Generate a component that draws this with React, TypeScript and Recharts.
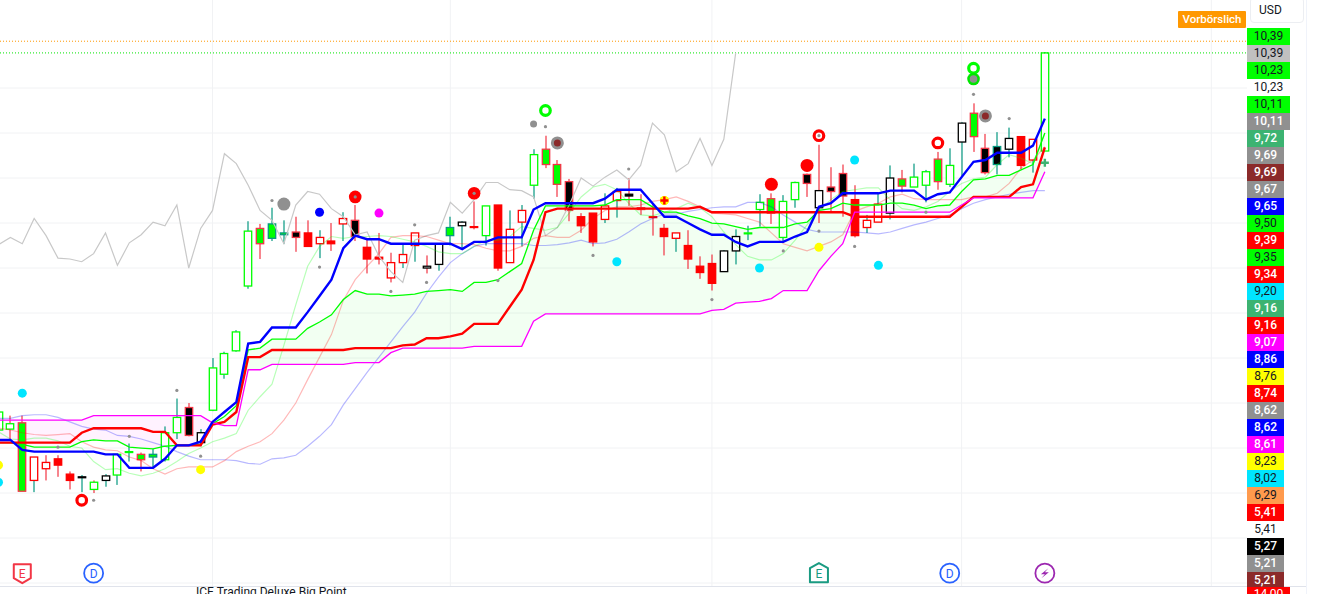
import { Area, Bar, CartesianGrid, ComposedChart, Line, ReferenceLine, Scatter, XAxis, YAxis } from "recharts";

const bodyHigh = [
  6.40, 6.27, 6.28, 5.90, 5.84, 5.88, 5.71, 5.68, 5.62, 5.69,
  5.93, 5.96, 5.93, 5.93, 6.17, 6.34, 6.45, 6.17, 6.89, 7.05,
  7.29, 8.41, 8.44, 8.49, 8.39, 8.40, 8.39, 8.34, 8.30, 8.55,
  8.53, 8.23, 8.12, 8.06, 8.15, 8.39, 8.02, 8.27, 8.45, 8.51,
  8.46, 8.69, 8.70, 8.43, 8.64, 9.26, 9.32, 9.15, 8.96, 8.57,
  8.61, 8.69, 8.85, 8.82, 8.67, 8.57, 8.44, 8.39, 8.25, 8.02,
  8.05, 8.19, 8.35, 8.39, 8.73, 8.77, 8.74, 8.95, 9.04, 8.86,
  8.90, 9.05, 8.76, 8.53, 8.71, 9.00, 8.99, 9.01, 9.07, 9.21,
  9.14, 9.61, 9.72, 9.33, 9.35, 9.44, 9.46, 9.43, 10.39,
];
const bodyLow = [
  6.20, 6.21, 5.52, 5.64, 5.77, 5.81, 5.64, 5.67, 5.54, 5.64,
  5.70, 5.95, 5.87, 5.90, 5.87, 6.17, 6.14, 6.06, 6.42, 6.82,
  7.08, 7.80, 8.27, 8.33, 8.37, 8.34, 8.24, 8.27, 8.27, 8.49,
  8.35, 8.10, 8.10, 7.89, 8.06, 8.25, 8.00, 8.04, 8.36, 8.47,
  8.45, 8.36, 8.00, 8.06, 8.51, 8.92, 9.15, 8.93, 8.64, 8.47,
  8.29, 8.54, 8.75, 8.80, 8.65, 8.56, 8.35, 8.33, 8.10, 7.95,
  7.83, 7.96, 8.19, 8.38, 8.65, 8.61, 8.34, 8.76, 8.94, 8.67,
  8.85, 8.80, 8.36, 8.45, 8.51, 8.61, 8.91, 8.90, 8.92, 8.96,
  8.93, 9.40, 9.46, 9.06, 9.15, 9.32, 9.14, 9.20, 9.30,
];
const wickHigh = [
  6.42, 6.36, 6.36, 5.90, 5.92, 5.92, 5.74, 5.70, 5.64, 5.71,
  5.93, 6.05, 5.95, 5.99, 6.24, 6.55, 6.50, 6.21, 7.00, 7.07,
  7.31, 8.52, 8.49, 8.67, 8.53, 8.57, 8.53, 8.42, 8.50, 8.62,
  8.70, 8.33, 8.39, 8.17, 8.26, 8.39, 8.14, 8.27, 8.57, 8.52,
  8.74, 8.69, 8.70, 8.64, 8.70, 9.32, 9.47, 9.20, 8.99, 8.61,
  8.61, 8.83, 8.89, 9.00, 8.82, 8.72, 8.49, 8.39, 8.42, 8.13,
  8.15, 8.20, 8.43, 8.47, 8.82, 8.83, 8.81, 8.96, 9.05, 9.37,
  9.12, 9.15, 8.92, 8.59, 8.83, 9.14, 9.09, 9.16, 9.09, 9.29,
  9.33, 9.62, 9.83, 9.49, 9.51, 9.56, 9.46, 9.43, 10.40,
];
const wickLow = [
  6.18, 6.10, 5.52, 5.51, 5.64, 5.68, 5.54, 5.51, 5.50, 5.57,
  5.59, 5.85, 5.74, 5.79, 5.85, 6.10, 6.13, 6.02, 6.41, 6.77,
  7.07, 7.77, 8.10, 8.30, 8.27, 8.18, 8.24, 8.11, 8.19, 8.30,
  8.30, 7.94, 8.04, 7.84, 8.00, 8.07, 7.94, 7.97, 8.25, 8.22,
  8.43, 8.25, 7.97, 8.06, 8.24, 8.77, 9.11, 8.79, 8.52, 8.39,
  8.24, 8.50, 8.56, 8.69, 8.59, 8.36, 8.14, 8.18, 7.99, 7.88,
  7.75, 7.96, 8.04, 8.31, 8.46, 8.49, 8.28, 8.67, 8.79, 8.50,
  8.62, 8.57, 8.34, 8.39, 8.51, 8.54, 8.84, 8.90, 8.73, 8.87,
  8.90, 9.01, 9.29, 9.04, 9.04, 9.23, 9.10, 9.06, 9.30,
];
// body kind per candle, see KIND_STYLE
const candleKind = [
  "hg", "hg", "gr", "hr", "hr", "rr", "rr", "kk", "hg", "hk",
  "hg", "hg", "gr", "gt", "hg", "hg", "kr", "hk", "hg", "hg",
  "hg", "hg", "gr", "gt", "gt", "kr", "rr", "hr", "rr", "hr",
  "kr", "rr", "rr", "hr", "hr", "hr", "hk", "hk", "gt", "hk",
  "rr", "hg", "rr", "hr", "hr", "hg", "gr", "gr", "kr", "rr",
  "rr", "hr", "hr", "kk", "kr", "rr", "rr", "hr", "rr", "rr",
  "rr", "hk", "hk", "hg", "hg", "gr", "hg", "hg", "kr", "hk",
  "kr", "kr", "rr", "hr", "hr", "hk", "gr", "hg", "hg", "gr",
  "hg", "hk", "gr", "kr", "kt", "hk", "rr", "hr", "og",
];
const wickKind = [
  "t", "r", "r", "t", "r", "r", "r", "t", "r", "t",
  "t", "t", "r", "t", "t", "t", "r", "t", "t", "t",
  "t", "t", "r", "t", "t", "r", "r", "t", "r", "t",
  "r", "r", "r", "r", "t", "t", "r", "t", "t", "t",
  "r", "t", "r", "t", "t", "t", "r", "r", "r", "r",
  "r", "t", "t", "r", "r", "r", "r", "t", "r", "r",
  "r", "t", "t", "t", "t", "r", "t", "t", "r", "r",
  "r", "r", "r", "t", "t", "t", "r", "t", "t", "r",
  "t", "t", "r", "r", "t", "t", "r", "t", "t",
];

const blueLine = [
  6.09, 6.09, 5.98, 5.96, 5.96, 5.96, 5.96, 5.96, 5.96, 5.93,
  5.93, 5.78, 5.78, 5.78, 5.88, 6.03, 6.03, 6.07, 6.29, 6.40,
  6.51, 7.16, 7.18, 7.34, 7.34, 7.34, 7.51, 7.69, 7.87, 8.22,
  8.36, 8.32, 8.32, 8.27, 8.27, 8.27, 8.27, 8.27, 8.27, 8.21,
  8.29, 8.29, 8.34, 8.34, 8.34, 8.65, 8.72, 8.72, 8.72, 8.72,
  8.72, 8.77, 8.87, 8.87, 8.87, 8.72, 8.57, 8.57, 8.50, 8.43,
  8.37, 8.37, 8.29, 8.24, 8.29, 8.29, 8.29, 8.35, 8.40, 8.68,
  8.72, 8.83, 8.83, 8.83, 8.83, 8.86, 8.86, 8.86, 8.76, 8.82,
  8.84, 9.01, 9.18, 9.20, 9.28, 9.28, 9.28, 9.36, 9.66,
];
const redLine = [
  6.06, 6.06, 6.06, 6.06, 6.06, 6.06, 6.06, 6.17, 6.22, 6.22,
  6.22, 6.22, 6.22, 6.18, 6.18, 6.03, 6.03, 6.03, 6.26, 6.29,
  6.40, 7.01, 7.01, 7.09, 7.09, 7.09, 7.09, 7.09, 7.09, 7.09,
  7.11, 7.11, 7.11, 7.11, 7.14, 7.15, 7.22, 7.22, 7.24, 7.27,
  7.38, 7.38, 7.38, 7.57, 7.76, 8.09, 8.62, 8.66, 8.66, 8.66,
  8.66, 8.66, 8.66, 8.66, 8.66, 8.66, 8.66, 8.66, 8.66, 8.68,
  8.62, 8.62, 8.62, 8.62, 8.62, 8.62, 8.62, 8.62, 8.62, 8.62,
  8.62, 8.62, 8.57, 8.57, 8.57, 8.57, 8.57, 8.57, 8.57, 8.57,
  8.57, 8.68, 8.79, 8.79, 8.79, 8.79, 8.90, 8.93, 9.34,
];
const greenLine = [
  6.06, 6.06, 6.04, 6.01, 6.01, 6.01, 6.01, 6.07, 6.09, 6.08,
  6.08, 6.01, 6.00, 5.99, 6.02, 6.03, 6.03, 6.04, 6.27, 6.35,
  6.47, 7.09, 7.11, 7.21, 7.21, 7.21, 7.33, 7.40, 7.48, 7.65,
  7.75, 7.71, 7.71, 7.69, 7.70, 7.71, 7.74, 7.75, 7.76, 7.74,
  7.84, 7.84, 7.87, 7.96, 8.05, 8.42, 8.69, 8.69, 8.69, 8.69,
  8.69, 8.70, 8.76, 8.76, 8.76, 8.68, 8.62, 8.62, 8.58, 8.55,
  8.50, 8.49, 8.46, 8.43, 8.45, 8.45, 8.45, 8.49, 8.51, 8.64,
  8.66, 8.72, 8.70, 8.70, 8.70, 8.72, 8.72, 8.70, 8.66, 8.69,
  8.70, 8.85, 8.98, 8.99, 9.03, 9.03, 9.09, 9.15, 9.50,
];
const magentaLine = [
  6.31, 6.31, 6.31, 6.31, 6.31, 6.31, 6.31, 6.31, 6.36, 6.36,
  6.36, 6.36, 6.36, 6.36, 6.36, 6.36, 6.36, 6.36, 6.28, 6.25,
  6.25, 6.87, 6.87, 6.93, 6.93, 6.93, 6.93, 6.93, 6.93, 6.93,
  6.95, 6.95, 6.95, 7.06, 7.11, 7.11, 7.11, 7.11, 7.11, 7.11,
  7.13, 7.13, 7.13, 7.13, 7.13, 7.41, 7.49, 7.49, 7.49, 7.49,
  7.49, 7.49, 7.49, 7.49, 7.49, 7.49, 7.49, 7.49, 7.49, 7.49,
  7.53, 7.54, 7.61, 7.62, 7.63, 7.66, 7.75, 7.75, 7.75, 7.97,
  8.13, 8.27, 8.62, 8.62, 8.62, 8.62, 8.62, 8.62, 8.62, 8.62,
  8.62, 8.70, 8.78, 8.78, 8.78, 8.78, 8.78, 8.78, 9.07,
];
const paleBlueLine = [
  6.33, 6.33, 6.36, 6.37, 6.37, 6.34, 6.29, 6.24, 6.21, 6.20,
  6.14, 6.13, 6.10, 6.06, 6.02, 5.96, 5.91, 5.87, 5.87, 5.87,
  5.86, 5.83, 5.82, 5.88, 5.89, 5.92, 6.02, 6.13, 6.26, 6.48,
  6.66, 6.84, 7.01, 7.18, 7.35, 7.51, 7.72, 7.90, 8.06, 8.16,
  8.24, 8.27, 8.27, 8.27, 8.27, 8.25, 8.25, 8.26, 8.28, 8.31,
  8.27, 8.28, 8.32, 8.40, 8.49, 8.55, 8.60, 8.60, 8.63, 8.65,
  8.67, 8.68, 8.68, 8.73, 8.73, 8.68, 8.59, 8.51, 8.43, 8.40,
  8.40, 8.40, 8.40, 8.39, 8.38, 8.40, 8.44, 8.48, 8.51, 8.55,
  8.59, 8.66, 8.72, 8.76, 8.79, 8.82, 8.84, 8.86, 8.86,
];
const paleGreenLine = [
  6.18, 6.10, 6.09, 6.11, 6.11, 6.08, 6.02, 6.00, 5.85, 5.76,
  5.77, 5.72, 5.69, 5.72, 5.77, 5.85, 5.94, 6.00, 6.07, 6.11,
  6.16, 6.42, 6.57, 6.71, 7.14, 7.59, 8.02, 8.24, 8.35, 8.33,
  8.35, 8.35, 8.36, 8.35, 8.32, 8.29, 8.24, 8.18, 8.16, 8.16,
  8.24, 8.31, 8.31, 8.35, 8.46, 8.44, 8.42, 8.45, 8.61, 8.79,
  8.90, 8.93, 8.87, 8.72, 8.59, 8.58, 8.62, 8.66, 8.72, 8.67,
  8.57, 8.40, 8.26, 8.13, 8.09, 8.09, 8.16, 8.31, 8.48, 8.64,
  8.76, 8.85, 8.87, 8.89, 8.89, 8.76, 8.66, 8.64, 8.68, 8.74,
  8.85, 8.94, 8.99, 9.01, 9.15, 9.26, 9.22, 9.16, 9.50,
];
const paleRedLine = [
  6.22, 6.20, 6.17, 6.15, 6.14, 6.15, 6.16, 6.07, 6.01, 5.98,
  5.97, 5.90, 5.86, 5.77, 5.71, 5.77, 5.79, 5.79, 5.79, 5.86,
  5.96, 6.02, 6.07, 6.16, 6.31, 6.50, 6.76, 7.01, 7.26, 7.64,
  7.87, 8.02, 8.16, 8.34, 8.36, 8.36, 8.35, 8.31, 8.27, 8.27,
  8.26, 8.22, 8.19, 8.19, 8.24, 8.33, 8.36, 8.34, 8.34, 8.42,
  8.55, 8.64, 8.68, 8.68, 8.70, 8.74, 8.76, 8.79, 8.74, 8.68,
  8.61, 8.60, 8.59, 8.55, 8.51, 8.39, 8.27, 8.23, 8.19, 8.24,
  8.29, 8.37, 8.63, 8.68, 8.72, 8.79, 8.82, 8.77, 8.76, 8.76,
  8.76, 8.76, 8.79, 8.79, 8.83, 8.94, 9.11, 9.20, 9.35,
];
const grayLine = [
  8.26, 8.34, 8.27, 8.55, 8.36, 8.11, 8.10, 8.07, 8.16, 8.39,
  8.03, 8.28, 8.37, 8.51, 8.47, 8.70, 8.00, 8.44, 8.64, 9.27,
  9.16, 8.92, 8.64, 8.53, 8.27, 8.70, 8.85, 8.82, 8.66, 8.57,
  8.37, 8.40, 8.13, 7.96, 7.84, 8.31, 8.36, 8.39, 8.73, 8.61,
  8.76, 8.95, 8.95, 8.87, 8.86, 8.79, 8.36, 8.45, 8.70, 9.00,
  8.91, 9.01, 9.09, 8.98, 9.14, 9.61, 9.48, 9.07, 9.16, 9.44,
  9.14, 9.43, 10.39,
];

type Pt = [number, number];
const smallDots: Pt[] = [
  [5, 6.01], [8, 5.42], [11, 6.13], [15, 6.64], [17, 5.91], [23, 8.75], [27, 8.01], [33, 7.74], [35, 8.48], [36, 7.84],
  [42, 7.86], [46, 9.57], [50, 8.14], [53, 9.10], [60, 7.65], [66, 8.19], [69, 8.41], [72, 8.24], [78, 8.62], [82, 9.93], [85, 9.66],
];
const cyanDots: Pt[] = [[0, 5.62], [2, 6.61], [52, 8.07], [64, 8.00], [72, 9.20], [74, 8.03]];
const yellowDots: Pt[] = [[0, 5.81], [17, 5.76], [56, 8.75], [69, 8.23]];
const blueDots: Pt[] = [[27, 8.62]];
const magentaDots: Pt[] = [[32, 8.61]];
const grayBig: Pt[] = [[24, 8.71]];
const grayMid: Pt[] = [[45, 9.60]];
const redDiscs: Pt[] = [[30, 8.79], [40, 8.83]];
const redBig: Pt[] = [[65, 8.93], [68, 9.14]];
const redRings: Pt[] = [[7, 5.42], [69, 9.47], [79, 9.39]];
const greenRings: Pt[] = [[46, 9.75], [82, 10.22]];
const greenDiscs: Pt[] = [[82, 10.10]];
const brownDiscs: Pt[] = [[47, 9.39], [83, 9.69]];
const discCenters: Pt[] = [[30, 8.79], [40, 8.83], [69, 9.47]];
const redPlus: Pt[] = [[56, 8.75]];
const greenPlus: Pt[] = [[88, 9.17]];
// event badges along the bottom of the pane
const earningsDown: Pt[] = [[2, 4.61]];
const earningsUp: Pt[] = [[69, 4.61]];
const dividends: Pt[] = [[8, 4.61], [80, 4.61]];
const splits: Pt[] = [[88, 4.61]];

const gridPrices = [10, 9.5, 9, 8.5, 8, 7.5, 7, 6.5, 6, 5.5, 5, 4.5];
const gridBars = [18, 38, 60, 81, 102];

const axisLabels = [
  "10,39", "10,39", "10,23", "10,23", "10,11", "10,11", "9,72", "9,69", "9,69", "9,67", "9,65",
  "9,50", "9,39", "9,35", "9,34", "9,20", "9,16", "9,16", "9,07", "8,86", "8,76", "8,74",
  "8,62", "8,62", "8,61", "8,23", "8,02", "6,29", "5,41", "5,41", "5,27", "5,21", "5,21",
];
const axisColors = [
  "#00ff00", "#c0c0c0", "#00ff00", "#ffffff", "#00ff00", "#909090", "#3cb371", "#909090", "#8b2a2a", "#909090", "#0000ff",
  "#00ff00", "#ff0000", "#00ff00", "#ff0000", "#00e5ff", "#3cb371", "#ff0000", "#ff00ff", "#0000ff", "#ffff00", "#ff0000",
  "#909090", "#0000ff", "#ff00ff", "#ffff00", "#00e5ff", "#ff9a4d", "#ff0000", "#ffffff", "#000000", "#909090", "#8b2a2a",
];
const darkText = ["#00ff00", "#c0c0c0", "#ffffff", "#ffff00", "#00e5ff", "#ff9a4d"];

const RED = "#f23645";
const TEAL = "#089981";
const KIND_STYLE: Record<string, { fill: string; stroke: string }> = {
  hg: { fill: "#ffffff", stroke: "#00ff00" },
  og: { fill: "none", stroke: "#00ff00" },
  hr: { fill: "#ffffff", stroke: "#ff0000" },
  hk: { fill: "#ffffff", stroke: "#000000" },
  gr: { fill: "#00ff00", stroke: RED },
  gt: { fill: "#00ff00", stroke: TEAL },
  rr: { fill: "#ff0000", stroke: "#ff0000" },
  kr: { fill: "#000000", stroke: RED },
  kt: { fill: "#000000", stroke: TEAL },
  kk: { fill: "#000000", stroke: "#000000" },
};

const table = bodyHigh.map((_, i) => ({
  i,
  range: [wickLow[i], wickHigh[i]],
  bodyHigh: bodyHigh[i],
  bodyLow: bodyLow[i],
  kind: candleKind[i],
  wick: wickKind[i] === "r" ? RED : TEAL,
  blue: blueLine[i],
  red: redLine[i],
  green: greenLine[i],
  magenta: magentaLine[i],
  paleBlue: paleBlueLine[i],
  paleGreen: paleGreenLine[i],
  paleRed: paleRedLine[i],
  gray: grayLine[i] ?? null,
  cloudUp: i >= 18 ? [magentaLine[i], greenLine[i]] : null,
  cloudDown: i <= 18 ? [greenLine[i], magentaLine[i]] : null,
}));

const toPoints = (pts: Pt[]) => pts.map(([i, y]) => ({ i, y }));

function Candle(props: any) {
  const { x, y, width, height, payload } = props;
  const perUnit = height / (payload.range[1] - payload.range[0]);
  const top = y + (payload.range[1] - payload.bodyHigh) * perUnit;
  const bodyH = Math.max((payload.bodyHigh - payload.bodyLow) * perUnit, 0.6);
  const cx = Math.round(x + width / 2);
  const style = KIND_STYLE[payload.kind];
  return (
    <g>
      <rect x={cx - 0.6} y={y} width={1.2} height={Math.max(top - y, 0)} fill={payload.wick} />
      <rect x={cx - 0.6} y={top + bodyH} width={1.2} height={Math.max(y + height - top - bodyH, 0)} fill={payload.wick} />
      <rect x={cx - 3.7} y={top} width={7.4} height={bodyH} fill={style.fill} stroke={style.stroke} strokeWidth={1.3} />
    </g>
  );
}

const disc = (r: number, fill: string) => (p: any) => <circle cx={p.cx} cy={p.cy} r={r} fill={fill} />;
const ring = (r: number, w: number, stroke: string) => (p: any) =>
  <circle cx={p.cx} cy={p.cy} r={r} fill="none" stroke={stroke} strokeWidth={w} />;
const doubleDisc = (r: number, outer: string, r2: number, inner: string) => (p: any) => (
  <g>
    <circle cx={p.cx} cy={p.cy} r={r} fill={outer} />
    <circle cx={p.cx} cy={p.cy} r={r2} fill={inner} />
  </g>
);
const plus = (color: string, behind?: string) => (p: any) => (
  <g>
    {behind && <circle cx={p.cx} cy={p.cy} r={4.5} fill={behind} />}
    <path d={`M${p.cx - 4} ${p.cy}H${p.cx + 4}M${p.cx} ${p.cy - 4}V${p.cy + 4}`} stroke={color} strokeWidth={2.4} />
  </g>
);
const badgeText = (p: any, color: string, label: string) => (
  <text x={p.cx} y={p.cy + 4.5} textAnchor="middle" fontSize={12} fontFamily="Roboto, sans-serif" fill={color}>{label}</text>
);
const shieldDown = (p: any) => (
  <g>
    <path d={`M${p.cx - 8.5} ${p.cy - 9}H${p.cx + 8.5}V${p.cy + 5}L${p.cx} ${p.cy + 10}L${p.cx - 8.5} ${p.cy + 5}Z`} fill="#fff" stroke="#f23645" strokeWidth={2} strokeLinejoin="round" />
    {badgeText(p, "#f23645", "E")}
  </g>
);
const shieldUp = (p: any) => (
  <g>
    <path d={`M${p.cx} ${p.cy - 10}L${p.cx + 9} ${p.cy - 5}V${p.cy + 9}H${p.cx - 9}V${p.cy - 5}Z`} fill="#fff" stroke="#1a9b82" strokeWidth={2} strokeLinejoin="round" />
    {badgeText(p, "#1a9b82", "E")}
  </g>
);
const dividendBadge = (p: any) => (
  <g>
    <circle cx={p.cx} cy={p.cy} r={9.5} fill="#fff" stroke="#2962ff" strokeWidth={1.8} />
    {badgeText(p, "#2962ff", "D")}
  </g>
);
const splitBadge = (p: any) => (
  <g>
    <circle cx={p.cx} cy={p.cy} r={9.5} fill="#fff" stroke="#9c27b0" strokeWidth={1.8} />
    <path d={`M${p.cx + 3.5} ${p.cy - 5}L${p.cx - 4} ${p.cy + 1}H${p.cx}L${p.cx - 3.5} ${p.cy + 5}L${p.cx + 4} ${p.cy - 1}H${p.cx}Z`} fill="#9c27b0" />
  </g>
);

export default function App() {
  return (
    <div style={{ position: "absolute", left: 0, top: 0, width: 1318, height: 594, overflow: "hidden", background: "#fff", fontFamily: "Roboto, sans-serif" }}>
      <ComposedChart width={1318} height={594} data={table} margin={{ top: 0, right: 71, bottom: 8, left: 0 }}>
        <XAxis dataKey="i" type="number" domain={[0.126, 105]} allowDataOverflow hide />
        <YAxis type="number" domain={[4.467, 10.978]} allowDataOverflow hide />
        <CartesianGrid stroke="#f1f2f4" horizontalValues={gridPrices} verticalValues={gridBars} />

        <ReferenceLine y={10.52} stroke="#ff9800" strokeDasharray="1 2" />
        <ReferenceLine y={10.39} stroke="#00e600" strokeDasharray="1 2" />

        <Area dataKey="cloudDown" stroke="none" fill="#ff00ff" fillOpacity={0.05} activeDot={false} isAnimationActive={false} />
        <Area dataKey="cloudUp" stroke="none" fill="#00ff00" fillOpacity={0.05} activeDot={false} isAnimationActive={false} />

        <Line dataKey="gray" stroke="#c8c8c8" strokeWidth={1.2} dot={false} activeDot={false} isAnimationActive={false} />
        <Line dataKey="paleBlue" stroke="#0000ff" strokeOpacity={0.28} strokeWidth={1.2} dot={false} activeDot={false} isAnimationActive={false} />
        <Line dataKey="paleRed" stroke="#ff0000" strokeOpacity={0.28} strokeWidth={1.2} dot={false} activeDot={false} isAnimationActive={false} />
        <Line dataKey="paleGreen" stroke="#00ff00" strokeOpacity={0.28} strokeWidth={1.2} dot={false} activeDot={false} isAnimationActive={false} />
        <Line dataKey="green" stroke="#00ff00" strokeWidth={1.3} dot={false} activeDot={false} isAnimationActive={false} />
        <Line dataKey="red" stroke="#ff0000" strokeWidth={2.4} dot={false} activeDot={false} isAnimationActive={false} />
        <Line dataKey="magenta" stroke="#ff00ff" strokeWidth={1.3} dot={false} activeDot={false} isAnimationActive={false} />
        <Line dataKey="blue" stroke="#0000ff" strokeWidth={2.4} dot={false} activeDot={false} isAnimationActive={false} />

        <Bar dataKey="range" barSize={8} shape={Candle} isAnimationActive={false} />

        <Scatter data={toPoints(cyanDots)} dataKey="y" shape={disc(4.5, "#00e5ff")} isAnimationActive={false} />
        <Scatter data={toPoints(yellowDots)} dataKey="y" shape={disc(4.5, "#ffff00")} isAnimationActive={false} />
        <Scatter data={toPoints(blueDots)} dataKey="y" shape={disc(4.5, "#0000ff")} isAnimationActive={false} />
        <Scatter data={toPoints(magentaDots)} dataKey="y" shape={disc(4.5, "#ff00ff")} isAnimationActive={false} />
        <Scatter data={toPoints(grayBig)} dataKey="y" shape={disc(6.5, "#909090")} isAnimationActive={false} />
        <Scatter data={toPoints(grayMid)} dataKey="y" shape={disc(3.5, "#909090")} isAnimationActive={false} />
        <Scatter data={toPoints(redDiscs)} dataKey="y" shape={disc(6.3, "#ff0000")} isAnimationActive={false} />
        <Scatter data={toPoints(redBig)} dataKey="y" shape={disc(6.5, "#ff0000")} isAnimationActive={false} />
        <Scatter data={toPoints(redRings)} dataKey="y" shape={ring(4.8, 3.2, "#ff0000")} isAnimationActive={false} />
        <Scatter data={toPoints(greenRings)} dataKey="y" shape={ring(4.8, 3.2, "#00ff00")} isAnimationActive={false} />
        <Scatter data={toPoints(greenDiscs)} dataKey="y" shape={doubleDisc(6.3, "#00e600", 3.8, "#909090")} isAnimationActive={false} />
        <Scatter data={toPoints(brownDiscs)} dataKey="y" shape={doubleDisc(6.5, "#909090", 3.5, "#8b2a2a")} isAnimationActive={false} />
        <Scatter data={toPoints(smallDots)} dataKey="y" shape={disc(1.6, "#909090")} isAnimationActive={false} />
        <Scatter data={toPoints(discCenters)} dataKey="y" shape={disc(1.6, "#909090")} isAnimationActive={false} />
        <Scatter data={toPoints(redPlus)} dataKey="y" shape={plus("#ff0000", "#ffff00")} isAnimationActive={false} />
        <Scatter data={toPoints(greenPlus)} dataKey="y" shape={plus("#3cb371")} isAnimationActive={false} />
        <Scatter data={toPoints(earningsDown)} dataKey="y" shape={shieldDown} isAnimationActive={false} />
        <Scatter data={toPoints(earningsUp)} dataKey="y" shape={shieldUp} isAnimationActive={false} />
        <Scatter data={toPoints(dividends)} dataKey="y" shape={dividendBadge} isAnimationActive={false} />
        <Scatter data={toPoints(splits)} dataKey="y" shape={splitBadge} isAnimationActive={false} />
      </ComposedChart>

      {/* pane separator and the next pane's title, cut off by the window */}
      <div style={{ position: "absolute", left: 0, top: 586, width: 1306, height: 1, background: "#e0e3eb" }} />
      <div style={{ position: "absolute", left: 196, top: 585, fontSize: 12, color: "#131722", whiteSpace: "nowrap" }}>ICE Trading Deluxe Big Point</div>

      {/* right hand price scale */}
      <div style={{ position: "absolute", left: 1306, top: 0, width: 1, height: 594, background: "#f0f3fa" }} />
      <div style={{ position: "absolute", left: 1250, top: -3, width: 52, height: 24, border: "1px solid #eceef2", borderRadius: 4, background: "#fff" }} />
      <div style={{ position: "absolute", left: 1259, top: 3, fontSize: 12, color: "#131722" }}>USD</div>
      <div style={{ position: "absolute", left: 1178, top: 11, width: 68, height: 17, background: "#ff9800", color: "#fff", fontSize: 11.5, fontWeight: 500, lineHeight: "17px", textAlign: "center", borderRadius: 1 }}>Vorbörslich</div>
      {axisLabels.map((label, k) => (
        <div
          key={k}
          style={{
            position: "absolute",
            left: 1247,
            top: 27.5 + k * 17,
            width: label.length > 4 ? 43 : 37,
            height: 17,
            lineHeight: "17px",
            textAlign: "center",
            fontSize: 12,
            background: axisColors[k],
            color: darkText.includes(axisColors[k]) ? "#131722" : "#fff",
            fontWeight: darkText.includes(axisColors[k]) ? 400 : 500,
          }}
        >
          {label}
        </div>
      ))}
      <div style={{ position: "absolute", left: 1247, top: 587, width: 43, height: 17, lineHeight: "15px", textAlign: "center", fontSize: 12, background: "#ff0000", color: "#fff" }}>14,00</div>
    </div>
  );
}
